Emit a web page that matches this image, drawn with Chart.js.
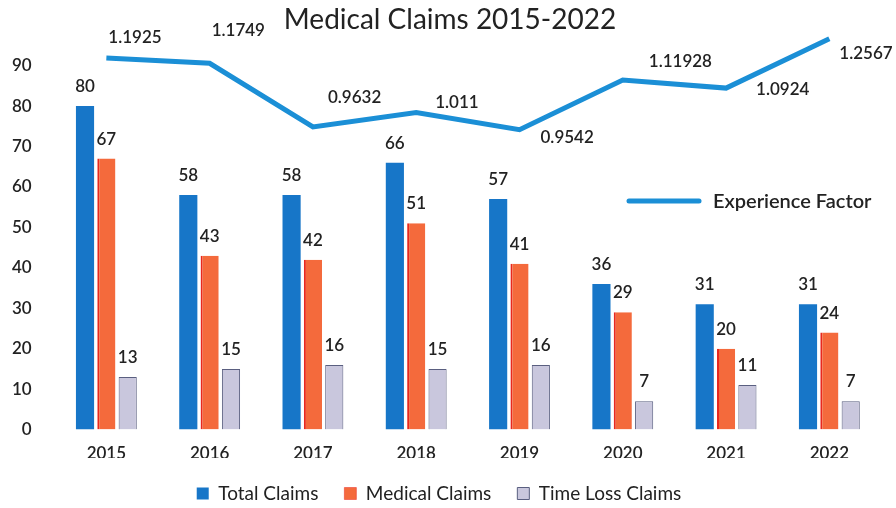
<!DOCTYPE html>
<html lang="en">
<head>
<meta charset="UTF-8">
<title>Medical Claims 2015-2022</title>
<script src="https://cdn.jsdelivr.net/npm/chart.js"></script>
<style>
    body { margin: 0; background: #fff; }
    #wrap { width: 896px; height: 508px; position: relative; }
</style>
</head>
<body>
<div id="wrap"><canvas id="claimsChart"></canvas></div>
<script>
// Data
const years = ['2015', '2016', '2017', '2018', '2019', '2020', '2021', '2022'];
const totalClaims = [80, 58, 58, 66, 57, 36, 31, 31];
const medicalClaims = [67, 43, 42, 51, 41, 29, 20, 24];
const timeLossClaims = [13, 15, 16, 15, 16, 7, 11, 7];
const experienceFactor = [1.1925, 1.1749, 0.9632, 1.011, 0.9542, 1.11928, 1.0924, 1.2567];
const experienceText = ['1.1925', '1.1749', '0.9632', '1.011', '0.9542', '1.11928', '1.0924', '1.2567'];
const yTicks = [0, 10, 20, 30, 40, 50, 60, 70, 80, 90];

// label placement for the experience factor values (dx, dy from the point)
const efLabelOffsets = [[2, -21], [2, -33], [15, -29], [19, -10], [21, 8], [26, -19], [30, 1], [10, 15]];

const FONT = 'Lato, "Open Sans", sans-serif';
const TEXT = '#222';

// Title drawn on top of the plot area (overlaps the line labels like the original)
const titlePlugin = {
    id: 'topTitle',
    afterDraw(chart) {
        const ctx = chart.ctx;
        ctx.save();
        ctx.font = '28px ' + FONT;
        ctx.fillStyle = TEXT;
        ctx.textAlign = 'center';
        ctx.textBaseline = 'middle';
        ctx.fillText('Medical Claims 2015-2022', 450, 20);
        ctx.restore();
    }
};

// Value labels above bars and next to line points
const valueLabels = {
    id: 'valueLabels',
    afterDatasetsDraw(chart) {
        const ctx = chart.ctx;
        ctx.save();
        ctx.fillStyle = TEXT;
        ctx.font = '600 17px ' + FONT;
        chart.data.datasets.forEach((ds, i) => {
            const meta = chart.getDatasetMeta(i);
            if (ds.type === 'line') {
                ctx.textAlign = 'left';
                ctx.textBaseline = 'middle';
                meta.data.forEach((pt, j) => {
                    const off = efLabelOffsets[j];
                    ctx.fillText(experienceText[j], pt.x + off[0], pt.y + off[1]);
                });
            } else {
                ctx.textAlign = 'center';
                ctx.textBaseline = 'bottom';
                meta.data.forEach((bar, j) => {
                    ctx.fillText(ds.data[j], bar.x, bar.y - 11);
                });
            }
        });
        ctx.restore();
    }
};

// Separate legend entry for the line, sitting inside the plot on the right
const lineLegend = {
    id: 'lineLegend',
    afterDraw(chart) {
        const ctx = chart.ctx;
        const a = chart.chartArea;
        const x = a.right - 252, y = 201;
        ctx.save();
        ctx.strokeStyle = '#1b8fd6';
        ctx.lineWidth = 5;
        ctx.lineCap = 'round';
        ctx.beginPath();
        ctx.moveTo(x, y);
        ctx.lineTo(x + 70, y);
        ctx.stroke();
        ctx.fillStyle = TEXT;
        ctx.font = '600 20px ' + FONT;
        ctx.textBaseline = 'middle';
        ctx.fillText('Experience Factor', x + 84, y + 1);
        ctx.restore();
    }
};

const ctx = document.getElementById('claimsChart').getContext('2d');
new Chart(ctx, {
    data: {
        labels: years,
        datasets: [
            {
                type: 'line',
                label: 'Experience Factor',
                data: experienceFactor,
                yAxisID: 'y2',
                borderColor: '#1b8fd6',
                borderWidth: 5,
                pointRadius: 0,
                tension: 0,
                order: 0
            },
            {
                type: 'bar',
                label: 'Total Claims',
                data: totalClaims,
                backgroundColor: '#1776c8',
                order: 1
            },
            {
                type: 'bar',
                label: 'Medical Claims',
                data: medicalClaims,
                backgroundColor: '#f46a3c',
                borderColor: '#e8281e',
                borderWidth: { left: 2, top: 0, right: 0, bottom: 0 },
                order: 1
            },
            {
                type: 'bar',
                label: 'Time Loss Claims',
                data: timeLossClaims,
                backgroundColor: '#c9c7dd',
                borderColor: '#5a5f80',
                borderWidth: 1,
                order: 1
            }
        ]
    },
    options: {
        responsive: true,
        maintainAspectRatio: false,
        animation: false,
        layout: { padding: { top: 30, left: -3, right: 15, bottom: -5 } },
        datasets: {
            bar: { categoryPercentage: 0.62, barPercentage: 0.85 }
        },
        plugins: {
            legend: {
                position: 'bottom',
                labels: {
                    filter: item => item.text !== 'Experience Factor',
                    boxWidth: 12,
                    boxHeight: 12,
                    color: TEXT,
                    font: { family: FONT, size: 19 },
                    padding: 26
                }
            },
            tooltip: { enabled: false }
        },
        scales: {
            x: {
                type: 'category',
                offset: true,
                grid: { display: false },
                border: { display: false },
                afterFit: scale => { scale.height -= 12; },
                ticks: {
                    color: TEXT,
                    font: { family: FONT, size: 17, weight: '600' },
                    padding: 6
                }
            },
            y: {
                min: 0,
                max: 98.8,
                grid: { display: false },
                border: { display: false },
                afterBuildTicks: scale => { scale.ticks = yTicks.map(v => ({ value: v })); },
                ticks: {
                    color: TEXT,
                    font: { family: FONT, size: 17, weight: '600' },
                    padding: 15
                }
            },
            y2: {
                display: false,
                min: -0.044,
                max: 1.2858
            }
        }
    },
    plugins: [titlePlugin, valueLabels, lineLegend]
});
</script>
</body>
</html>
